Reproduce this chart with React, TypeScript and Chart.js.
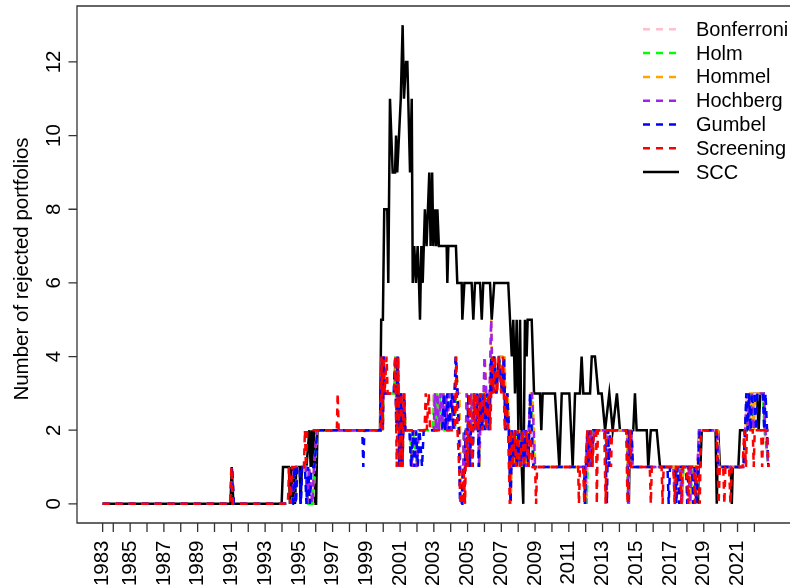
import { useEffect, useRef } from 'react';
import { Chart, registerables } from 'chart.js';

Chart.register(...registerables);

type P = [number, number];

// Series values: [decimal year, number of rejected portfolios]
const bonferroni: P[] = [
  [1983.37,0],[1990.95,0],[1991.03,1],[1991.14,0],[1994.62,0],[1994.72,1],[1994.82,0],[1994.92,1],[1995.45,1],[1995.55,0],[1995.85,0],[1995.95,1],[1996.10,2],
  [1999.85,2],[1999.92,4],[1999.98,2],[2000.04,4],[2000.10,3],[2000.65,3],[2000.72,4],[2000.80,2],[2000.88,4],[2000.98,1],[2001.06,3],[2001.14,1],[2001.24,3],[2001.32,2],[2001.60,2],[2001.70,1],[2001.80,2],[2002.00,1],[2002.10,2],
  [2002.90,2],[2002.96,3],[2003.04,2],[2003.12,3],[2003.20,2],[2003.30,3],[2003.38,2],[2004.25,2],[2004.32,4],[2004.40,3],[2004.50,2],[2004.58,0],[2004.70,0],[2004.78,2],[2004.86,1],[2004.95,3],[2005.05,2],[2005.14,1],[2005.24,3],[2005.32,2],[2005.42,3],[2005.52,2],[2005.62,3],[2005.70,1],[2005.80,3],[2005.92,2],[2006.05,3],[2006.22,2],[2006.32,3],[2006.42,4],[2006.50,3],[2006.58,4],[2006.72,3],[2006.86,4],[2007.05,3],[2007.15,4],[2007.25,2],[2007.35,3],[2007.45,2],[2007.55,0],[2007.62,2],[2007.72,1],[2007.82,2],[2007.92,1],[2008.05,2],[2008.20,1],[2008.35,2],[2008.50,1],[2008.62,2],[2008.75,2],[2008.85,1],
  [2012.00,1],[2012.06,0],[2012.12,1],[2012.20,2],[2012.30,1],[2012.45,2],[2013.20,2],[2013.28,1],[2013.36,2],[2014.45,2],[2014.52,0],[2014.60,2],[2014.70,2],[2014.78,1],[2017.25,1],[2017.32,0],[2017.40,1],[2017.65,1],[2017.72,0],[2017.80,1],[2018.15,1],[2018.22,0],[2018.30,1],[2018.50,1],[2018.58,0],[2018.65,1],[2018.75,2],[2019.80,2],[2019.90,1],[2021.35,1],[2021.45,2],[2021.55,3],[2021.65,2],[2021.75,3],[2021.85,2],[2022.00,3],[2022.50,3],[2022.60,2],[2022.83,1]
];

const holm: P[] = [
  [1983.37,0],[1990.95,0],[1991.03,1],[1991.14,0],[1994.62,0],[1994.72,1],[1994.82,0],[1994.92,1],[1995.45,1],[1995.55,0],[1995.82,0],[1995.92,1],[1996.08,2],
  [1999.85,2],[1999.92,4],[1999.98,2],[2000.04,4],[2000.10,3],[2000.65,3],[2000.72,4],[2000.80,2],[2000.88,4],[2000.98,1],[2001.06,3],[2001.14,1],[2001.24,3],[2001.32,2],[2001.60,2],[2001.70,1],[2001.80,2],[2002.00,1],[2002.10,2],
  [2002.95,2],[2003.02,3],[2003.10,2],[2003.18,3],[2003.26,2],[2003.36,3],[2003.44,2],[2004.25,2],[2004.32,4],[2004.40,3],[2004.50,2],[2004.58,0],[2004.70,0],[2004.78,2],[2004.86,1],[2004.95,3],[2005.05,2],[2005.14,1],[2005.24,3],[2005.32,2],[2005.42,3],[2005.52,2],[2005.62,3],[2005.70,1],[2005.80,3],[2005.92,2],[2006.05,3],[2006.22,2],[2006.32,3],[2006.42,4],[2006.50,3],[2006.58,4],[2006.72,3],[2006.86,4],[2007.05,3],[2007.15,4],[2007.25,2],[2007.35,3],[2007.45,2],[2007.55,0],[2007.62,2],[2007.72,1],[2007.82,2],[2007.92,1],[2008.05,2],[2008.20,1],[2008.35,2],[2008.50,1],[2008.62,2],[2008.75,3],[2008.85,2],[2008.95,1],
  [2012.00,1],[2012.06,0],[2012.12,1],[2012.20,2],[2012.30,1],[2012.45,2],[2013.20,2],[2013.28,1],[2013.36,2],[2014.45,2],[2014.52,0],[2014.60,2],[2014.70,2],[2014.78,1],[2017.25,1],[2017.32,0],[2017.40,1],[2017.65,1],[2017.72,0],[2017.80,1],[2018.15,1],[2018.22,0],[2018.30,1],[2018.50,1],[2018.58,0],[2018.65,1],[2018.75,2],[2019.80,2],[2019.90,1],[2021.35,1],[2021.45,2],[2021.55,3],[2021.65,2],[2021.75,3],[2021.85,2],[2022.00,3],[2022.50,3],[2022.60,2],[2022.83,1]
];

const hommel: P[] = [
  [1983.37,0],[1990.95,0],[1991.03,1],[1991.14,0],[1994.62,0],[1994.72,1],[1994.82,0],[1994.92,1],[1995.40,1],[1995.50,0],[1995.62,1],[1995.80,0],[1995.90,1],[1996.08,2],
  [1999.85,2],[1999.92,4],[1999.98,2],[2000.04,4],[2000.10,3],[2000.65,3],[2000.72,4],[2000.80,2],[2000.88,4],[2000.98,1],[2001.06,3],[2001.14,1],[2001.24,3],[2001.32,2],[2001.60,2],[2001.70,1],[2001.80,2],[2002.00,1],[2002.10,2],
  [2003.00,2],[2003.06,3],[2003.14,2],[2003.24,3],[2003.32,2],[2003.42,3],[2003.50,2],[2003.58,3],[2003.66,2],[2003.74,3],[2003.82,2],[2003.92,3],[2004.02,2],[2004.12,3],[2004.22,2],[2004.30,4],[2004.42,3],[2004.52,3],[2004.62,0],[2004.72,0],[2004.80,2],[2004.88,1],[2004.97,3],[2005.06,2],[2005.14,1],[2005.24,3],[2005.32,2],[2005.42,3],[2005.52,2],[2005.62,3],[2005.70,1],[2005.80,3],[2005.92,2],[2006.02,4],[2006.12,3],[2006.24,2],[2006.32,3],[2006.40,5],[2006.50,3],[2006.58,4],[2006.72,3],[2006.86,4],[2007.05,4],[2007.12,3],[2007.20,4],[2007.28,2],[2007.38,3],[2007.46,2],[2007.56,0],[2007.64,2],[2007.74,1],[2007.84,2],[2007.94,1],[2008.06,2],[2008.22,1],[2008.36,2],[2008.52,1],[2008.64,2],[2008.74,3],[2008.84,3],[2008.94,2],[2009.02,1],
  [2011.92,1],[2011.98,0],[2012.04,1],[2012.12,2],[2012.22,1],[2012.30,2],[2012.40,1],[2012.50,2],[2013.22,2],[2013.30,1],[2013.38,2],[2014.46,2],[2014.53,0],[2014.60,2],[2014.72,2],[2014.80,1],[2017.22,1],[2017.30,0],[2017.38,1],[2017.62,1],[2017.70,0],[2017.78,1],[2018.12,1],[2018.20,0],[2018.28,1],[2018.47,1],[2018.56,0],[2018.64,1],[2018.74,2],[2019.82,2],[2019.92,1],[2021.36,1],[2021.46,2],[2021.56,3],[2021.66,2],[2021.74,3],[2021.86,3],[2021.96,2],[2022.06,3],[2022.56,3],[2022.66,2],[2022.83,1]
];

const hochberg: P[] = [
  [1983.37,0],[1990.95,0],[1991.03,1],[1991.14,0],[1994.60,0],[1994.70,1],[1994.80,0],[1994.90,1],[1995.40,1],[1995.50,0],[1995.60,1],[1995.80,0],[1995.90,1],[1996.05,2],
  [1999.85,2],[1999.92,4],[1999.98,2],[2000.04,4],[2000.10,3],[2000.65,3],[2000.72,4],[2000.80,2],[2000.88,4],[2000.98,1],[2001.06,3],[2001.14,1],[2001.24,3],[2001.32,2],[2001.60,2],[2001.70,1],[2001.80,2],[2002.00,1],[2002.10,2],
  [2003.00,2],[2003.06,3],[2003.14,2],[2003.22,3],[2003.30,2],[2003.40,3],[2003.48,2],[2003.56,3],[2003.64,2],[2003.72,3],[2003.80,2],[2003.90,3],[2004.00,2],[2004.10,3],[2004.20,2],[2004.30,4],[2004.40,3],[2004.50,2],[2004.58,0],[2004.70,0],[2004.78,2],[2004.86,1],[2004.95,3],[2005.05,2],[2005.12,1],[2005.22,3],[2005.30,2],[2005.40,3],[2005.50,2],[2005.60,3],[2005.68,1],[2005.78,3],[2005.90,2],[2006.00,4],[2006.10,3],[2006.22,2],[2006.30,3],[2006.40,5],[2006.48,3],[2006.55,4],[2006.70,3],[2006.85,4],[2007.05,3],[2007.15,4],[2007.25,2],[2007.35,3],[2007.45,2],[2007.55,0],[2007.62,2],[2007.72,1],[2007.82,2],[2007.92,1],[2008.05,2],[2008.20,1],[2008.35,2],[2008.50,1],[2008.62,2],[2008.72,3],[2008.82,3],[2008.92,2],[2009.00,1],
  [2011.90,1],[2011.96,0],[2012.02,1],[2012.10,2],[2012.20,1],[2012.28,2],[2012.38,1],[2012.48,2],[2013.20,2],[2013.28,1],[2013.36,2],[2014.45,2],[2014.52,0],[2014.58,2],[2014.70,2],[2014.78,1],[2017.20,1],[2017.28,0],[2017.36,1],[2017.60,1],[2017.68,0],[2017.76,1],[2018.10,1],[2018.18,0],[2018.26,1],[2018.45,1],[2018.55,0],[2018.62,1],[2018.72,2],[2019.80,2],[2019.90,1],[2021.35,1],[2021.45,2],[2021.55,3],[2021.65,2],[2021.72,3],[2021.85,3],[2021.95,2],[2022.05,3],[2022.55,3],[2022.65,2],[2022.83,1]
];

const gumbel: P[] = [
  [1983.37,0],[1990.95,0],[1991.04,1],[1991.15,0],[1994.65,0],[1994.74,1],[1994.82,0],[1994.90,1],[1995.05,1],[1995.12,0],[1995.20,1],[1995.36,1],[1995.45,0],[1995.55,1],[1995.65,0],[1995.75,1],[1995.92,1],[1996.10,2],[1998.76,2],[1998.82,1],[1998.88,2],
  [1999.85,2],[1999.92,4],[1999.97,2],[2000.02,4],[2000.08,3],[2000.62,3],[2000.70,4],[2000.78,2],[2000.85,4],[2000.95,1],[2001.04,3],[2001.12,1],[2001.23,3],[2001.30,2],[2001.55,2],[2001.65,1],[2001.75,2],[2001.85,1],[2001.95,2],[2002.05,1],[2002.15,2],[2002.30,1],[2002.40,2],
  [2003.50,2],[2003.60,3],[2003.68,2],[2003.80,3],[2003.90,2],[2004.05,3],[2004.15,2],[2004.30,4],[2004.40,3],[2004.48,2],[2004.55,0],[2004.65,0],[2004.72,1],[2004.80,0],[2004.88,2],[2004.95,1],[2005.05,3],[2005.12,1],[2005.20,2],[2005.30,1],[2005.40,3],[2005.48,2],[2005.58,3],[2005.66,1],[2005.75,3],[2005.85,2],[2005.95,3],[2006.05,2],[2006.15,3],[2006.30,2],[2006.40,4],[2006.48,3],[2006.58,4],[2006.70,3],[2006.85,4],[2007.05,3],[2007.15,4],[2007.25,2],[2007.35,3],[2007.45,2],[2007.55,0],[2007.62,2],[2007.72,1],[2007.82,2],[2007.92,1],[2008.02,2],[2008.12,1],[2008.22,2],[2008.35,1],[2008.45,2],[2008.60,1],[2008.70,3],[2008.80,2],[2008.90,1],
  [2011.90,1],[2011.96,0],[2012.02,1],[2012.10,2],[2012.16,1],[2012.25,2],[2012.35,1],[2012.45,2],[2013.15,2],[2013.20,1],[2013.26,0],[2013.32,2],[2013.40,1],[2013.46,2],[2014.45,2],[2014.52,0],[2014.58,2],[2014.66,1],[2014.72,2],[2014.80,1],[2016.85,1],[2016.92,0],[2017.00,1],[2017.30,1],[2017.38,0],[2017.45,1],[2017.55,0],[2017.62,1],[2017.95,1],[2018.02,0],[2018.10,1],[2018.30,1],[2018.38,0],[2018.45,1],[2018.58,0],[2018.66,1],[2018.76,2],[2019.75,2],[2019.85,1],[2021.35,1],[2021.45,2],[2021.52,3],[2021.60,2],[2021.68,3],[2021.78,2],[2021.86,3],[2022.00,3],[2022.10,2],[2022.18,3],[2022.50,3],[2022.58,2],[2022.66,3],[2022.75,2],[2022.83,1]
];

const screening: P[] = [
  [1983.37,0],[1990.92,0],[1991.00,1],[1991.10,0],[1994.35,0],[1994.42,1],[1994.50,0],[1994.60,1],[1995.30,1],[1995.36,2],[1995.42,1],[1995.50,2],[1997.25,2],[1997.30,3],[1997.36,2],
  [1999.85,2],[1999.90,4],[1999.96,2],[2000.02,4],[2000.08,3],[2000.20,4],[2000.26,3],[2000.65,3],[2000.72,4],[2000.80,1],[2000.88,4],[2000.98,1],[2001.06,3],[2001.14,1],[2001.22,3],[2001.30,2],[2002.45,2],[2002.52,3],[2002.58,2],[2002.70,3],[2002.78,2],
  [2004.25,2],[2004.32,4],[2004.40,2],[2004.50,1],[2004.58,0],[2004.70,0],[2004.76,1],[2004.85,0],[2004.92,2],[2005.00,1],[2005.10,3],[2005.18,2],[2005.28,1],[2005.38,3],[2005.46,2],[2005.56,3],[2005.65,2],[2005.75,3],[2005.85,2],[2006.00,3],[2006.10,2],[2006.25,3],[2006.35,2],[2006.45,4],[2006.55,3],[2006.62,4],[2006.75,3],[2006.85,4],[2007.00,3],[2007.10,4],[2007.20,2],[2007.30,3],[2007.40,2],[2007.50,0],[2007.58,2],[2007.68,1],[2007.78,2],[2007.88,1],[2007.98,2],[2008.10,1],[2008.25,2],[2008.35,1],[2008.50,2],[2008.62,1],[2008.72,2],[2008.85,1],[2009.00,1],[2009.06,0],[2009.12,1],
  [2011.55,1],[2011.60,0],[2011.66,1],[2011.85,1],[2011.92,0],[2011.98,1],[2012.10,2],[2012.20,1],[2012.30,2],[2012.40,1],[2012.50,2],[2012.62,2],[2012.66,0],[2012.72,2],[2013.10,2],[2013.18,0],[2013.25,2],[2013.45,2],[2013.50,1],[2013.56,2],[2014.40,2],[2014.48,0],[2014.56,1],[2014.62,2],[2014.70,1],[2015.80,1],[2015.86,0],[2015.92,1],[2016.50,1],[2016.56,0],[2016.62,1],[2017.20,1],[2017.28,0],[2017.36,1],[2017.60,1],[2017.68,0],[2017.76,1],[2018.00,1],[2018.08,0],[2018.16,1],[2018.40,1],[2018.48,0],[2018.56,1],[2018.70,1],[2018.76,0],[2018.84,2],[2019.75,2],[2019.82,1],[2019.88,0],[2019.95,1],[2020.15,1],[2020.22,0],[2020.28,1],[2020.50,1],[2020.58,0],[2020.66,1],[2021.30,1],[2021.40,2],[2021.50,1],[2021.56,2],[2021.90,2],[2021.96,1],[2022.02,2],[2022.40,2],[2022.46,1],[2022.52,2],[2022.75,2],[2022.83,1]
];

const scc: P[] = [
  [1983.37,0],[1990.95,0],[1991.02,1],[1991.12,0],[1993.98,0],[1994.06,1],[1994.41,1],[1994.47,0],[1994.55,1],[1994.62,0],[1994.70,1],[1994.77,0],[1994.85,1],[1995.05,1],[1995.10,0],[1995.18,1],[1995.45,1],[1995.62,2],[1995.70,1],[1995.78,2],[1995.84,1],[1995.90,2],[1995.97,0],[1996.02,0],[1996.10,2],
  [1999.81,2],[1999.88,5],[1999.98,5],[2000.06,8],[2000.24,8],[2000.30,6],[2000.40,11],[2000.56,9],[2000.70,9],[2000.76,10],[2000.83,9],[2001.04,11],[2001.15,13],[2001.23,11],[2001.35,12],[2001.43,12],[2001.59,9],[2001.69,11],[2001.75,6],[2001.84,7],[2001.94,6],[2002.04,7],[2002.12,6],[2002.18,5],[2002.26,7],[2002.34,6],[2002.47,8],[2002.57,7],[2002.73,9],[2002.81,7],[2002.90,9],[2002.97,7],[2003.07,8],[2003.14,7],[2003.21,8],[2003.30,7],[2003.76,7],[2003.80,6],[2003.86,7],[2004.31,7],[2004.39,6],[2004.65,6],[2004.69,5],[2004.81,6],[2005.24,6],[2005.34,5],[2005.44,6],[2005.74,6],[2005.84,5],[2005.93,6],[2006.33,6],[2006.43,5],[2006.58,6],
  [2007.41,6],[2007.62,4],[2007.71,5],[2007.81,3],[2007.91,5],[2008.01,2],[2008.11,5],[2008.21,1],[2008.30,0],[2008.40,5],[2008.50,4],[2008.56,5],[2008.80,5],[2008.94,3],[2009.29,3],[2009.37,2],[2009.45,3],[2010.18,3],[2010.44,1],[2010.58,3],[2011.03,3],[2011.23,1],[2011.37,3],[2011.66,3],[2011.76,4],[2011.86,3],[2012.26,3],[2012.36,4],[2012.55,4],[2012.75,3],[2012.95,3],[2013.15,2],[2013.40,3],[2013.60,2],[2013.85,3],[2014.03,2],[2014.50,2],[2014.56,0],[2014.62,2],[2014.82,2],[2014.92,3],[2015.02,2],[2015.62,2],[2015.71,1],[2015.86,2],[2016.21,2],[2016.41,1],
  [2018.58,1],[2018.66,0],[2018.72,2],[2018.80,1],[2018.88,2],[2019.70,2],[2019.77,0],[2019.85,2],[2019.96,1],[2020.60,1],[2020.66,0],[2020.72,1],[2021.05,1],[2021.15,2],[2021.55,2],[2021.64,3],[2021.72,2],[2021.80,3],[2021.90,2],[2022.00,3],[2022.15,3],[2022.25,2],[2022.35,3],[2022.55,3],[2022.63,2],[2022.83,2]
];

const seriesNames = ['Bonferroni', 'Holm', 'Hommel', 'Hochberg', 'Gumbel', 'Screening', 'SCC'];
const seriesColors = ['#FFC0CB', '#00FF00', '#FFA500', '#A020F0', '#0000FF', '#FF0000', '#000000'];
const seriesData: P[][] = [bonferroni, holm, hommel, hochberg, gumbel, screening, scc];
// drawing order: SCC underneath, Screening on top (lower order = drawn later)
const seriesOrder = [5, 4, 3, 2, 1, 0, 6];

const yTickValues = [0, 2, 4, 6, 8, 10, 12];
const xTickYears = [1983.37, 1984, 1985, 1986, 1987, 1988, 1989, 1990, 1991, 1992, 1993, 1994, 1995, 1996, 1997, 1998, 1999, 2000, 2001, 2002, 2003, 2004, 2005, 2006, 2007, 2008, 2009, 2010, 2011, 2012, 2013, 2014, 2015, 2016, 2017, 2018, 2019, 2020, 2021, 2022];
const xTickLabels = ['1983', '', '1985', '', '1987', '', '1989', '', '1991', '', '1993', '', '1995', '', '1997', '', '1999', '', '2001', '', '2003', '', '2005', '', '2007', '', '2009', '', '2011', '', '2013', '', '2015', '', '2017', '', '2019', '', '2021', ''];
const yTitle = 'Number of rejected portfolios';

const FONT = '"Liberation Sans", Arial, Helvetica, sans-serif';

export default function App() {
  const ref = useRef<HTMLCanvasElement | null>(null);

  useEffect(() => {
    const canvas = ref.current;
    if (!canvas) return;

    const rPlot = {
      id: 'rPlot',
      afterDraw(chart: any) {
        const { ctx, chartArea: a } = chart;
        const xs = chart.scales.x;
        const ys = chart.scales.y;
        ctx.save();
        ctx.setLineDash([]);
        ctx.strokeStyle = '#333';
        ctx.lineWidth = 1.3;
        ctx.beginPath();
        ctx.moveTo(a.right + 2, a.top);
        ctx.lineTo(a.left, a.top);
        ctx.lineTo(a.left, a.bottom);
        ctx.lineTo(a.right + 2, a.bottom);
        ctx.stroke();

        ctx.beginPath();
        xTickYears.forEach((v) => {
          const px = xs.getPixelForValue(v);
          ctx.moveTo(px, a.bottom);
          ctx.lineTo(px, a.bottom + 9);
        });
        yTickValues.forEach((v) => {
          const py = ys.getPixelForValue(v);
          ctx.moveTo(a.left, py);
          ctx.lineTo(a.left - 8.5, py);
        });
        ctx.stroke();

        ctx.fillStyle = '#000';
        ctx.font = `20.5px ${FONT}`;
        xTickYears.forEach((v, i) => {
          const lab = xTickLabels[i];
          if (!lab) return;
          const px = xs.getPixelForValue(v);
          ctx.save();
          ctx.translate(px, a.bottom + 17.5);
          ctx.rotate(-Math.PI / 2);
          ctx.textAlign = 'right';
          ctx.textBaseline = 'middle';
          ctx.fillText(lab, 0, 0);
          ctx.restore();
        });
        yTickValues.forEach((v) => {
          const py = ys.getPixelForValue(v);
          ctx.save();
          ctx.translate(a.left - 17, py);
          ctx.rotate(-Math.PI / 2);
          ctx.textAlign = 'center';
          ctx.textBaseline = 'alphabetic';
          ctx.fillText(String(v), 0, 0);
          ctx.restore();
        });

        ctx.save();
        ctx.font = `20.5px ${FONT}`;
        ctx.translate(27.5, 269);
        ctx.rotate(-Math.PI / 2);
        ctx.textAlign = 'center';
        ctx.textBaseline = 'alphabetic';
        ctx.fillText(yTitle, 0, 0);
        ctx.restore();

        // legend (no box)
        const lx0 = 643, lx1 = 679, tx = 696, ly0 = 29.3, dy = 23.8;
        ctx.font = `20px ${FONT}`;
        ctx.textAlign = 'left';
        ctx.textBaseline = 'middle';
        chart.data.datasets.forEach((ds: any, i: number) => {
          const y = ly0 + i * dy;
          ctx.strokeStyle = ds.borderColor;
          ctx.lineWidth = ds.borderWidth;
          ctx.setLineDash(ds.borderDash || []);
          ctx.beginPath();
          ctx.moveTo(lx0, y);
          ctx.lineTo(lx1, y);
          ctx.stroke();
          ctx.fillStyle = '#000';
          ctx.fillText(ds.label, tx, y + 1);
        });
        ctx.restore();
      },
    };

    const chart = new Chart(canvas, {
      type: 'line',
      data: {
        datasets: seriesData.map((d, i) => ({
          label: seriesNames[i],
          data: d.map(([x, y]) => ({ x, y })),
          borderColor: seriesColors[i],
          backgroundColor: seriesColors[i],
          borderWidth: 2.5,
          borderDash: i < 6 ? [7, 6] : [],
          order: seriesOrder[i],
          pointRadius: 0,
          pointHoverRadius: 0,
          fill: false,
          tension: 0,
        })),
      },
      options: {
        animation: false,
        responsive: false,
        events: [],
        layout: { padding: { left: 77, top: 6, right: 0, bottom: 62 } },
        plugins: { legend: { display: false }, tooltip: { enabled: false } },
        scales: {
          x: { type: 'linear', min: 1981.85, max: 2024.11, display: false },
          y: { type: 'linear', min: -0.52, max: 13.52, display: false },
        },
      },
      plugins: [rPlot],
    });

    return () => chart.destroy();
  }, []);

  return (
    <div style={{ position: 'fixed', left: 0, top: 0, width: 790, height: 585, overflow: 'hidden', background: '#fff' }}>
      <canvas ref={ref} width={790} height={585} style={{ display: 'block', width: 790, height: 585 }} />
    </div>
  );
}
